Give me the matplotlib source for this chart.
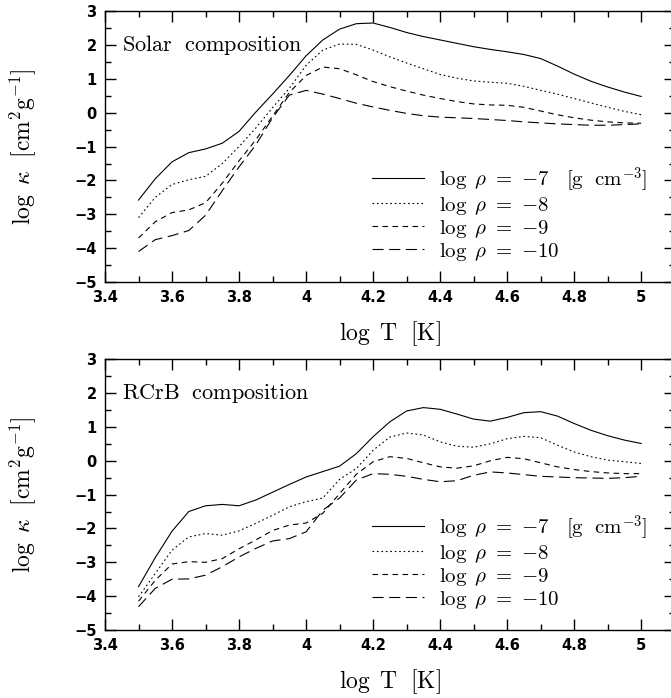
import matplotlib
matplotlib.use("Agg")
import matplotlib.pyplot as plt
from matplotlib.ticker import MultipleLocator

plt.rcParams['mathtext.fontset'] = 'cm'

# log T grid (K)
logT = [3.5, 3.55, 3.6, 3.65, 3.7, 3.75, 3.8, 3.85, 3.9, 3.95, 4.0,
        4.05, 4.1, 4.15, 4.2, 4.25, 4.3, 4.35, 4.4, 4.45, 4.5,
        4.55, 4.6, 4.65, 4.7, 4.75, 4.8, 4.85, 4.9, 4.95, 5.0]

# solar composition, log kappa for log rho = -7, -8, -9, -10
solar_m7 = [-2.58, -1.95, -1.45, -1.18, -1.07, -0.90, -0.55, 0.02, 0.55, 1.10, 1.68,
            2.15, 2.47, 2.63, 2.65, 2.52, 2.37, 2.25, 2.15, 2.05, 1.95,
            1.87, 1.80, 1.72, 1.60, 1.38, 1.14, 0.93, 0.76, 0.61, 0.48]
solar_m8 = [-3.10, -2.50, -2.12, -1.98, -1.88, -1.50, -1.00, -0.45, 0.15, 0.72, 1.40,
            1.85, 2.03, 2.02, 1.85, 1.65, 1.47, 1.30, 1.13, 1.02, 0.94,
            0.90, 0.87, 0.78, 0.66, 0.55, 0.42, 0.29, 0.16, 0.04, -0.06]
solar_m9 = [-3.70, -3.22, -2.95, -2.87, -2.66, -2.08, -1.42, -0.80, -0.10, 0.60, 1.10,
            1.35, 1.30, 1.12, 0.92, 0.77, 0.64, 0.52, 0.42, 0.33, 0.26,
            0.23, 0.22, 0.16, 0.05, -0.06, -0.15, -0.22, -0.27, -0.30, -0.31]
solar_m10 = [-4.10, -3.75, -3.63, -3.48, -3.03, -2.30, -1.60, -0.95, -0.15, 0.52, 0.66,
             0.55, 0.42, 0.28, 0.17, 0.07, -0.02, -0.09, -0.13, -0.15, -0.17,
             -0.20, -0.23, -0.27, -0.30, -0.33, -0.35, -0.37, -0.37, -0.35, -0.33]

# RCrB composition
rcrb_m7 = [-3.72, -2.86, -2.08, -1.50, -1.33, -1.29, -1.33, -1.16, -0.93, -0.70, -0.48,
           -0.32, -0.16, 0.21, 0.71, 1.15, 1.47, 1.57, 1.52, 1.38, 1.23,
           1.17, 1.28, 1.42, 1.45, 1.32, 1.10, 0.90, 0.74, 0.61, 0.51]
rcrb_m8 = [-4.02, -3.33, -2.64, -2.25, -2.15, -2.20, -2.07, -1.85, -1.61, -1.36, -1.21,
           -1.10, -0.55, -0.23, 0.31, 0.70, 0.82, 0.76, 0.56, 0.43, 0.40,
           0.50, 0.65, 0.72, 0.68, 0.46, 0.26, 0.12, 0.02, -0.03, -0.08]
rcrb_m9 = [-4.15, -3.53, -3.05, -2.98, -3.00, -2.89, -2.60, -2.34, -2.06, -1.90, -1.84,
           -1.55, -0.97, -0.40, -0.03, 0.12, 0.07, -0.06, -0.18, -0.22, -0.15,
           0.00, 0.10, 0.06, -0.06, -0.18, -0.26, -0.32, -0.36, -0.38, -0.38]
rcrb_m10 = [-4.31, -3.77, -3.50, -3.49, -3.38, -3.13, -2.84, -2.59, -2.37, -2.30, -2.10,
            -1.46, -1.10, -0.57, -0.38, -0.40, -0.46, -0.55, -0.62, -0.59, -0.43,
            -0.33, -0.36, -0.41, -0.46, -0.48, -0.50, -0.51, -0.52, -0.50, -0.46]

labels = [r'$\log\ \rho\ =\ {-7}\ \ \ [\mathrm{g\ \ cm}^{-3}]$',
          r'$\log\ \rho\ =\ {-8}$',
          r'$\log\ \rho\ =\ {-9}$',
          r'$\log\ \rho\ =\ {-10}$']
styles = ['-', (0, (1.5, 2.5)), (0, (5, 4)), (0, (10, 5))]


def draw_panel(ax, series, title):
    for ys, ls, lab in zip(series, styles, labels):
        ax.plot(logT, ys, color='black', lw=0.8, linestyle=ls, label=lab)
    ax.set_xlim(3.4, 5.1)
    ax.set_ylim(-5, 3)
    ax.xaxis.set_major_locator(MultipleLocator(0.2))
    ax.xaxis.set_minor_locator(MultipleLocator(0.1))
    ax.yaxis.set_major_locator(MultipleLocator(1))
    ax.yaxis.set_minor_locator(MultipleLocator(0.5))
    ax.tick_params(which='both', direction='in', top=True, right=True, width=1.0)
    ax.tick_params(which='major', length=8, labelsize=10.5, pad=6)
    ax.tick_params(which='minor', length=4)
    ax.set_xticks([3.4, 3.6, 3.8, 4.0, 4.2, 4.4, 4.6, 4.8, 5.0])
    ax.set_xticklabels(['3.4', '3.6', '3.8', '4', '4.2', '4.4', '4.6', '4.8', '5'])
    for t in ax.get_xticklabels() + ax.get_yticklabels():
        t.set_fontweight('bold')
    for s in ax.spines.values():
        s.set_linewidth(1.0)
    ax.set_xlabel(r'$\log\ \mathrm{T}\ \ [\mathrm{K}]$', fontsize=17, labelpad=10)
    ax.set_ylabel(r'$\log\ \kappa\ \ [\mathrm{cm}^2\mathrm{g}^{-1}]$', fontsize=17, labelpad=26)
    ax.text(0.03, 0.875, title, transform=ax.transAxes, fontsize=16, va='center', ha='left')
    ax.legend(loc='upper left', bbox_to_anchor=(0.45, 0.472), frameon=False,
              fontsize=15, handlelength=2.5, handletextpad=0.75, labelspacing=0.05,
              borderpad=0)


fig = plt.figure(figsize=(6.71, 6.98), dpi=100)
ax1 = fig.add_axes([0.1565, 0.596, 0.849, 0.388])
ax2 = fig.add_axes([0.1565, 0.0974, 0.849, 0.388])

draw_panel(ax1, [solar_m7, solar_m8, solar_m9, solar_m10], r'$\mathrm{Solar\ \ composition}$')
draw_panel(ax2, [rcrb_m7, rcrb_m8, rcrb_m9, rcrb_m10], r'$\mathrm{RCrB\ \ composition}$')

fig.savefig('out.png', dpi=100)
